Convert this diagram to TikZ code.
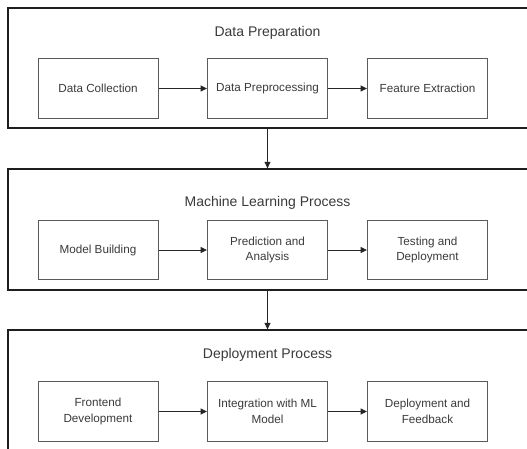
\documentclass[tikz,border=0pt]{standalone}
\usepackage{fontspec}
\setmainfont{Liberation Sans}
\usetikzlibrary{arrows.meta}
\definecolor{txt}{HTML}{3A3A3A}
\definecolor{outerln}{HTML}{1E1E1E}
\definecolor{innerln}{HTML}{5A5A5A}
\tikzset{
  x=1pt, y=-1pt,
  outerbox/.style={draw=outerln, line width=1.3pt, minimum width=532pt, inner sep=0pt},
  stepbox/.style={draw=innerln, line width=1pt, minimum width=120pt, minimum height=59.5pt, inner sep=0pt,
    text=txt, align=center, font=\fontsize{11.7}{15.5}\selectfont},
  titlelbl/.style={text=txt, font=\fontsize{14}{17}\selectfont, inner sep=0pt},
  flow/.style={draw=black!85, line width=1pt, -{Triangle[length=6.5pt,width=6pt]}},
}
\begin{document}
\begin{tikzpicture}
\useasboundingbox (0,0) rectangle (527,448);
\begin{scope}
\clip (0,0) rectangle (527,448);
% outer containers
\node[outerbox, minimum height=120pt] (o1) at (274,68) {};
\node[outerbox, minimum height=121pt] (o2) at (274,229.5) {};
\node[outerbox, minimum height=140pt] (o3) at (274,400) {};
\end{scope}
% titles
\node[titlelbl] (t1) at (267.5,33) {Data Preparation};
\node[titlelbl] (t2) at (267.5,203) {Machine Learning Process};
\node[titlelbl] (t3) at (267.5,355) {Deployment Process};
% row 1
\node[stepbox] (a1) at (98,88.5) {Data Collection};
\node[stepbox] (a2) at (267.5,88.5) {Data Preprocessing};
\node[stepbox] (a3) at (427.5,88.5) {Feature Extraction};
% row 2
\node[stepbox] (b1) at (98,250) {Model Building};
\node[stepbox] (b2) at (267.5,250) {Prediction and\\Analysis};
\node[stepbox] (b3) at (427.5,250) {Testing and\\Deployment};
% row 3
\node[stepbox] (c1) at (98,411.5) {Frontend\\Development};
\node[stepbox] (c2) at (267.5,411.5) {Integration with ML\\Model};
\node[stepbox] (c3) at (427.5,411.5) {Deployment and\\Feedback};
% horizontal arrows
\draw[flow] (a1) -- (a2);
\draw[flow] (a2) -- (a3);
\draw[flow] (b1) -- (b2);
\draw[flow] (b2) -- (b3);
\draw[flow] (c1) -- (c2);
\draw[flow] (c2) -- (c3);
% vertical arrows
\draw[flow] (o1.south -| t1) -- (o2.north -| t1);
\draw[flow] (o2.south -| t1) -- (o3.north -| t1);
\end{tikzpicture}
\end{document}
